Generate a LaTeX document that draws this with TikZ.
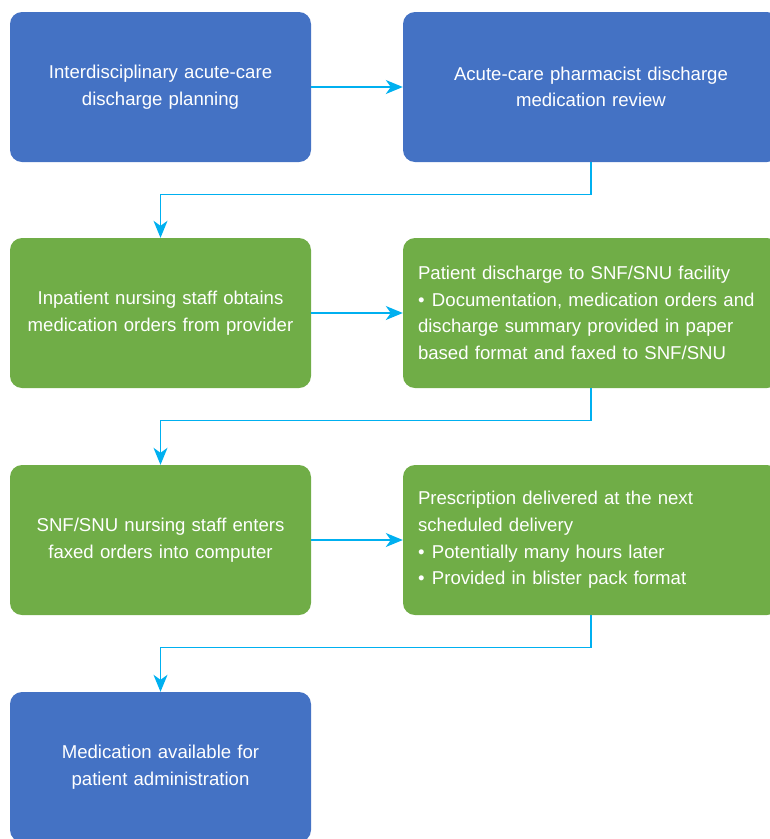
\documentclass[tikz,border=0pt]{standalone}
\usepackage{fontspec}
\setmainfont{Liberation Sans}
\usetikzlibrary{arrows.meta}
\definecolor{boxblue}{HTML}{4472C4}
\definecolor{boxgreen}{HTML}{70AD47}
\definecolor{flowcyan}{HTML}{00B0F0}

\begin{document}
\begin{tikzpicture}
  [x=1pt, y=-1pt,
   box/.style={rounded corners=12pt, text=white, minimum height=150pt, inner ysep=0pt,
               font=\fontsize{18.6}{26.6}\selectfont},
   leftbox/.style={box, text width=301pt, inner xsep=0pt, align=center},
   rightbox/.style={box, text width=346pt, inner xsep=15pt, align=left},
   flow/.style={draw=flowcyan, line width=1.4pt, -{Stealth[length=17pt,width=14pt,inset=5pt]}}]

  \useasboundingbox (0,0) rectangle (770,839);
  \clip (0,0) rectangle (770,839);

  \node[leftbox, fill=boxblue] (plan) at (160.5,87) {Interdisciplinary acute-care\\discharge planning};
  \node[rightbox, fill=boxblue, align=center] (review) at (591,87) {Acute-care pharmacist discharge\\medication review};

  \node[leftbox, fill=boxgreen] (orders) at (160.5,313) {Inpatient nursing staff obtains\\medication orders from provider};
  \node[rightbox, fill=boxgreen] (faxed) at (591,313) {Patient discharge to SNF/SNU facility\par
    \hangindent=14pt\hangafter=1\makebox[14pt][l]{\textbullet}Documentation, medication orders and\\discharge summary provided in paper\\based format and faxed to SNF/SNU};

  \node[leftbox, fill=boxgreen] (enter) at (160.5,540) {SNF/SNU nursing staff enters\\faxed orders into computer};
  \node[rightbox, fill=boxgreen] (deliver) at (591,540) {Prescription delivered at the next\\scheduled delivery\par
    \makebox[14pt][l]{\textbullet}Potentially many hours later\par
    \makebox[14pt][l]{\textbullet}Provided in blister pack format};

  \node[leftbox, fill=boxblue] (avail) at (160.5,767) {Medication available for\\patient administration};

  \foreach \from/\to in {plan/review, orders/faxed, enter/deliver}
    \draw[flow] (\from) -- (\to);

  \foreach \from/\to in {review/orders, faxed/enter, deliver/avail}
    \draw[flow] (\from.south) -- ++(0,32) -| (\to.north);
\end{tikzpicture}
\end{document}
